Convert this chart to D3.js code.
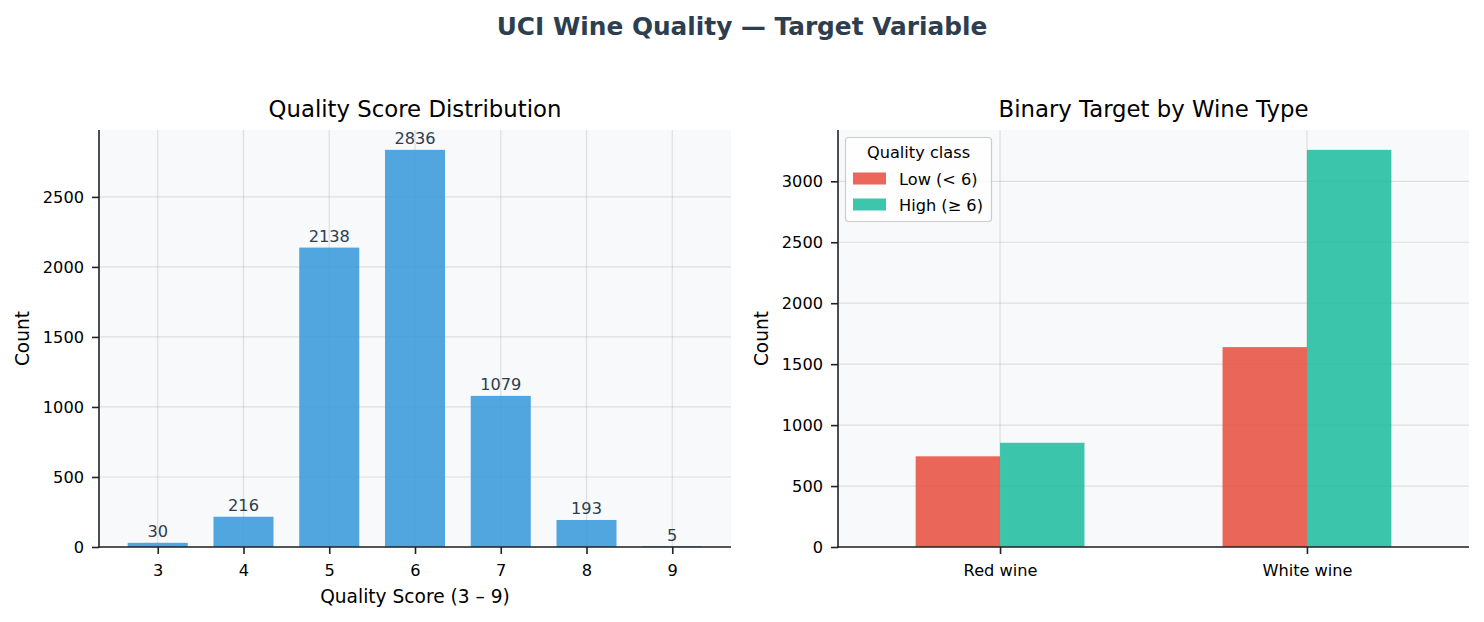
<!DOCTYPE html>
<html>
<head>
<meta charset="utf-8">
<script src="https://cdn.jsdelivr.net/npm/d3@7"></script>
<style>
  body { margin: 0; background: #fff; }
  svg text { font-family: "DejaVu Sans", sans-serif; }
</style>
</head>
<body>
<div id="vis"></div>
<script>
// quality score counts
const scores = [3, 4, 5, 6, 7, 8, 9];
const scoreCounts = [30, 216, 2138, 2836, 1079, 193, 5];

// binary target by wine type
const wineTypes = ["Red wine", "White wine"];
const classNames = ["Low (< 6)", "High (\u2265 6)"];
const lowCounts = [744, 1640];
const highCounts = [855, 3258];

const leftTicks = [0, 500, 1000, 1500, 2000, 2500];
const rightTicks = [0, 500, 1000, 1500, 2000, 2500, 3000];

const W = 1484, H = 622;
const blue = "#3498db", red = "#e74c3c", teal = "#1abc9c";
const ink = "#2c3e50";

const svg = d3.select("#vis").append("svg")
    .attr("width", W).attr("height", H);

svg.append("text")
    .attr("x", 742).attr("y", 35)
    .attr("text-anchor", "middle")
    .style("font-size", "24.8px").style("font-weight", "bold")
    .attr("fill", ink)
    .text("UCI Wine Quality \u2014 Target Variable");

function panel(x0, x1, y0, y1, title) {
  const g = svg.append("g");
  g.append("rect").attr("x", x0).attr("y", y0)
      .attr("width", x1 - x0).attr("height", y1 - y0).attr("fill", "#f8f9fa");
  g.append("text").attr("x", (x0 + x1) / 2).attr("y", 117)
      .attr("text-anchor", "middle").style("font-size", "22.8px").attr("fill", "#000")
      .text(title);
  g.append("text")
      .attr("transform", `translate(${x0 - 70},${(y0 + y1) / 2}) rotate(-90)`)
      .attr("text-anchor", "middle").style("font-size", "18.6px").attr("fill", "#000")
      .text("Count");
  return g;
}

function styleAxis(ax) {
  ax.select(".domain").remove();
  ax.selectAll(".tick line").attr("stroke", "#222").attr("stroke-width", 1.6);
  ax.selectAll(".tick text").style("font-size", "16.2px").attr("fill", "#000")
      .style("font-family", "DejaVu Sans, sans-serif");
}

function spines(g, x0, x1, y0, y1) {
  g.append("line").attr("x1", x0).attr("x2", x0).attr("y1", y0).attr("y2", y1 + 0.8)
      .attr("stroke", "#222").attr("stroke-width", 1.6);
  g.append("line").attr("x1", x0 - 0.8).attr("x2", x1).attr("y1", y1).attr("y2", y1)
      .attr("stroke", "#222").attr("stroke-width", 1.6);
}

const fmt = d3.format("d");

// ---------- left panel ----------
{
  const x0 = 99, x1 = 731, y0 = 130, y1 = 547;
  const g = panel(x0, x1, y0, y1, "Quality Score Distribution");

  const x = d3.scaleLinear().domain([2.315, 9.685]).range([x0, x1]);
  const y = d3.scaleLinear().domain([0, d3.max(scoreCounts) * 1.05]).range([y1, y0]);

  // grid
  g.append("g").selectAll("line").data(leftTicks).join("line")
      .attr("x1", x0).attr("x2", x1).attr("y1", d => y(d)).attr("y2", d => y(d))
      .attr("stroke", "#b0b0b0").attr("stroke-opacity", 0.35).attr("stroke-width", 1.2);
  g.append("g").selectAll("line").data(scores).join("line")
      .attr("x1", d => x(d)).attr("x2", d => x(d)).attr("y1", y0).attr("y2", y1)
      .attr("stroke", "#b0b0b0").attr("stroke-opacity", 0.35).attr("stroke-width", 1.2);

  const bw = 0.7;
  g.append("g").selectAll("rect").data(scores).join("rect")
      .attr("x", d => x(d - bw / 2))
      .attr("width", d => x(d + bw / 2) - x(d - bw / 2))
      .attr("y", (d, i) => y(scoreCounts[i]))
      .attr("height", (d, i) => y1 - y(scoreCounts[i]))
      .attr("fill", blue).attr("fill-opacity", 0.85);

  g.append("g").selectAll("text").data(scores).join("text")
      .attr("x", d => x(d))
      .attr("y", (d, i) => y(scoreCounts[i]) - 5.5)
      .attr("text-anchor", "middle").style("font-size", "16.2px").attr("fill", ink)
      .text((d, i) => scoreCounts[i]);

  const ya = g.append("g").attr("transform", `translate(${x0},0)`)
      .call(d3.axisLeft(y).tickValues(leftTicks).tickFormat(fmt).tickSize(7).tickPadding(8));
  styleAxis(ya);
  const xa = g.append("g").attr("transform", `translate(0,${y1})`)
      .call(d3.axisBottom(x).tickValues(scores).tickFormat(fmt).tickSize(7).tickPadding(10.5));
  styleAxis(xa);
  spines(g, x0, x1, y0, y1);

  g.append("text").attr("x", (x0 + x1) / 2).attr("y", 602.5)
      .attr("text-anchor", "middle").style("font-size", "18.6px").attr("fill", "#000")
      .text("Quality Score (3 \u2013 9)");
}

// ---------- right panel ----------
{
  const x0 = 838, x1 = 1469, y0 = 130, y1 = 547;
  const g = panel(x0, x1, y0, y1, "Binary Target by Wine Type");

  const x = d3.scaleLinear().domain([-0.528, 1.528]).range([x0, x1]);
  const y = d3.scaleLinear().domain([0, d3.max(highCounts) * 1.05]).range([y1, y0]);
  const idx = wineTypes.map((d, i) => i);

  g.append("g").selectAll("line").data(rightTicks).join("line")
      .attr("x1", x0).attr("x2", x1).attr("y1", d => y(d)).attr("y2", d => y(d))
      .attr("stroke", "#b0b0b0").attr("stroke-opacity", 0.35).attr("stroke-width", 1.2);
  g.append("g").selectAll("line").data(idx).join("line")
      .attr("x1", d => x(d)).attr("x2", d => x(d)).attr("y1", y0).attr("y2", y1)
      .attr("stroke", "#b0b0b0").attr("stroke-opacity", 0.35).attr("stroke-width", 1.2);

  const bw = 0.275;
  const series = [
    { vals: lowCounts, color: red, off: -bw },
    { vals: highCounts, color: teal, off: 0 }
  ];
  series.forEach(s => {
    g.append("g").selectAll("rect").data(idx).join("rect")
        .attr("x", d => x(d + s.off))
        .attr("width", d => x(d + s.off + bw) - x(d + s.off))
        .attr("y", d => y(s.vals[d]))
        .attr("height", d => y1 - y(s.vals[d]))
        .attr("fill", s.color).attr("fill-opacity", 0.85);
  });

  const ya = g.append("g").attr("transform", `translate(${x0},0)`)
      .call(d3.axisLeft(y).tickValues(rightTicks).tickFormat(fmt).tickSize(7).tickPadding(8));
  styleAxis(ya);
  const xa = g.append("g").attr("transform", `translate(0,${y1})`)
      .call(d3.axisBottom(x).tickValues(idx).tickFormat(i => wineTypes[i]).tickSize(7).tickPadding(10.5));
  styleAxis(xa);
  spines(g, x0, x1, y0, y1);

  // legend
  const lg = g.append("g");
  lg.append("rect").attr("x", 845.5).attr("y", 137.5).attr("width", 146).attr("height", 84)
      .attr("rx", 3).attr("fill", "#fff").attr("fill-opacity", 0.8)
      .attr("stroke", "#cccccc").attr("stroke-width", 1.2);
  lg.append("text").attr("x", 918.5).attr("y", 158)
      .attr("text-anchor", "middle").style("font-size", "16.2px").attr("fill", "#000")
      .text("Quality class");
  [red, teal].forEach((c, i) => {
    lg.append("rect").attr("x", 853).attr("y", 172.5 + i * 26).attr("width", 33).attr("height", 12)
        .attr("fill", c).attr("fill-opacity", 0.85);
    lg.append("text").attr("x", 899).attr("y", 184.5 + i * 26)
        .style("font-size", "16.2px").attr("fill", "#000").text(classNames[i]);
  });
}
</script>
</body>
</html>
